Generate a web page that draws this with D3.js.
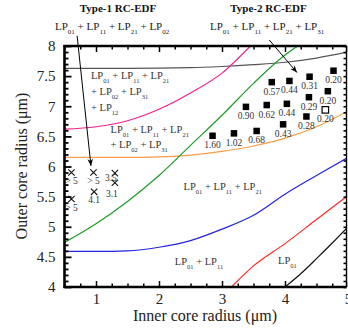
<!DOCTYPE html>
<html><head><meta charset="utf-8">
<script src="https://cdn.jsdelivr.net/npm/d3@7/dist/d3.min.js"></script>
<style>body{margin:0;background:#fff}svg{display:block}text{font-family:"Liberation Serif","Times New Roman",serif}</style>
</head><body><svg id="c" width="348" height="332"></svg>
<script>
// ---- data ----
const xTicks = [1, 2, 3, 4, 5];
const yTicks = [4, 4.5, 5, 5.5, 6, 6.5, 7, 7.5, 8];
const yTickLabels = ["4", "4.5", "5", "5.5", "6", "6.5", "7", "7.5", "8"];

const grayCurve    = [[0.5,7.63],[1.5,7.63],[2.5,7.64],[3.0,7.66],[3.5,7.69],[4.0,7.73],[4.5,7.80],[5.0,7.90]];
const magentaCurve = [[0.5,6.62],[1.0,6.66],[1.5,6.76],[2.0,6.95],[2.5,7.22],[3.0,7.55],[3.45,8.0]];
const orangeCurve  = [[0.5,6.15],[1.5,6.15],[2.0,6.16],[2.5,6.19],[3.0,6.25],[3.5,6.34],[4.0,6.47],[4.5,6.66],[5.0,6.92]];
const greenCurve   = [[0.5,4.74],[1.0,5.05],[1.5,5.42],[2.0,5.85],[2.5,6.35],[3.0,6.85],[3.5,7.38],[4.0,7.85],[4.2,8.0]];
const blueCurve    = [[0.5,4.59],[1.0,4.59],[1.5,4.60],[2.0,4.66],[2.5,4.77],[3.0,4.96],[3.5,5.19],[4.0,5.54],[4.5,5.85],[5.0,6.15]];
const redCurve     = [[3.15,4.0],[3.5,4.35],[4.0,4.72],[4.5,5.12],[5.0,5.52]];
const blackCurve   = [[4.0,4.0],[4.25,4.22],[4.5,4.47],[4.75,4.73],[5.0,5.0]];

const squareX      = [3.79, 4.07, 4.39, 4.77, 4.38, 4.68, 3.38, 3.71, 4.03, 4.34, 4.64, 3.97, 3.55, 3.19, 2.85];
const squareY      = [7.40, 7.42, 7.49, 7.59, 7.15, 7.25, 6.99, 7.02, 7.04, 6.83, 6.94, 6.70, 6.59, 6.55, 6.51];
const squareLabels = ["0.57","0.44","0.31","0.20","0.29","0.20","0.90","0.62","0.44","0.28","0.20","0.43","0.68","1.02","1.60"];
const squareOpen   = [false,false,false,false,false,false,false,false,false,false,true,false,false,false,false];

const crossX      = [0.61, 0.96, 0.97, 1.30, 1.30, 0.61];
const crossY      = [5.90, 5.90, 5.58, 5.89, 5.73, 5.46];
const crossLabels = ["> 5", "> 5", "4.1", "3.5", "3.1", "> 5"];

// ---- setup ----
const svg = d3.select("#c");
const x = d3.scaleLinear().domain([0.5, 5]).range([64.5, 348]);
const y = d3.scaleLinear().domain([4, 8]).range([287, 46]);
const X0 = x(0.5), X1 = 346.5, Y0 = y(4), Y1 = y(8);

// curves
const line = d3.line().x(d => x(d[0])).y(d => y(d[1])).curve(d3.curveMonotoneX);
const curves = [
  [grayCurve, "#555555"], [magentaCurve, "#f0218c"], [orangeCurve, "#f89c45"],
  [greenCurve, "#1f9a2a"], [blueCurve, "#2424dc"], [redCurve, "#ff2626"], [blackCurve, "#111111"]
];
const clip = svg.append("clipPath").attr("id","pc").append("rect")
  .attr("x", X0).attr("y", Y1).attr("width", X1 - X0).attr("height", Y0 - Y1);
const cg = svg.append("g").attr("clip-path","url(#pc)");
curves.forEach(([d, c]) => cg.append("path").attr("d", line(d)).attr("fill","none")
  .attr("stroke", c).attr("stroke-width", 1.2));

// axes
function minorRange(a, b, s) { return d3.range(Math.round((b - a) / s) + 1).map(i => +(a + i * s).toFixed(3)); }
const yMinor = minorRange(4, 8, 0.1).filter(v => !yTicks.some(t => Math.abs(t - v) < 1e-6));
const xMinor = minorRange(0.5, 5, 0.25).filter(v => !xTicks.some(t => Math.abs(t - v) < 1e-6));

function styleAxis(g, w) {
  g.select(".domain").remove();
  g.selectAll(".tick line").attr("stroke", "#000").attr("stroke-width", w);
}
// left
svg.append("g").attr("transform", `translate(${X0},0)`)
  .call(d3.axisLeft(y).tickValues(yTicks).tickSize(-7).tickPadding(9).tickFormat((d,i) => yTickLabels[i]))
  .call(g => { styleAxis(g, 1.8); g.selectAll("text").attr("font-size", 15).attr("fill","#222")
    .attr("font-family","Liberation Serif"); });
svg.append("g").attr("transform", `translate(${X0},0)`)
  .call(d3.axisLeft(y).tickValues(yMinor).tickSize(-4).tickFormat(""))
  .call(g => styleAxis(g, 1.8));
// right
svg.append("g").attr("transform", `translate(${X1},0)`)
  .call(d3.axisRight(y).tickValues(yMinor.concat(yTicks)).tickSize(-3).tickFormat(""))
  .call(g => styleAxis(g, 1.6));
// bottom
svg.append("g").attr("transform", `translate(0,${Y0})`)
  .call(d3.axisBottom(x).tickValues(xTicks).tickSize(-6).tickPadding(6).tickFormat(d3.format("d")))
  .call(g => { styleAxis(g, 1.5); g.selectAll("text").attr("font-size", 15).attr("fill","#222")
    .attr("font-family","Liberation Serif"); });
svg.append("g").attr("transform", `translate(0,${Y0})`)
  .call(d3.axisBottom(x).tickValues(xMinor).tickSize(-3.5).tickFormat(""))
  .call(g => styleAxis(g, 1.5));
// top
svg.append("g").attr("transform", `translate(0,${Y1})`)
  .call(d3.axisTop(x).tickValues(xTicks).tickSize(-6).tickFormat(""))
  .call(g => styleAxis(g, 1.5));
svg.append("g").attr("transform", `translate(0,${Y1})`)
  .call(d3.axisTop(x).tickValues(xMinor).tickSize(-3.5).tickFormat(""))
  .call(g => styleAxis(g, 1.5));

// frame
svg.append("line").attr("x1", X0).attr("x2", X0).attr("y1", Y1 - 1).attr("y2", Y0 + 1).attr("stroke","#000").attr("stroke-width", 2.6);
svg.append("line").attr("x1", X0 - 1).attr("x2", X1).attr("y1", Y0).attr("y2", Y0).attr("stroke","#000").attr("stroke-width", 2.6);
svg.append("line").attr("x1", X0 - 1).attr("x2", X1).attr("y1", Y1).attr("y2", Y1).attr("stroke","#000").attr("stroke-width", 2.6);
svg.append("line").attr("x1", X1).attr("x2", X1).attr("y1", Y1).attr("y2", Y0).attr("stroke","#000").attr("stroke-width", 1.4);

// axis titles
svg.append("text").attr("x", 205).attr("y", 321).attr("text-anchor","middle")
  .attr("font-size", 16).attr("fill","#222").text("Inner core radius (μm)");
svg.append("text").attr("transform", "translate(27,166) rotate(-90)").attr("text-anchor","middle")
  .attr("font-size", 16).attr("fill","#222").text("Outer core radius (μm)");

// markers
const sq = 6.5;
squareX.forEach((v, i) => {
  const cx = x(v), cy = y(squareY[i]);
  svg.append("rect").attr("x", cx - sq/2).attr("y", cy - sq/2).attr("width", sq).attr("height", sq)
    .attr("fill", squareOpen[i] ? "#fff" : "#000").attr("stroke","#000").attr("stroke-width", squareOpen[i] ? 1.2 : 0);
  svg.append("text").attr("x", cx).attr("y", cy + 12.5).attr("text-anchor","middle")
    .attr("font-size", 9.5).attr("fill","#333").text(squareLabels[i]);
});
const cs = 3.2;
const crossLabelShift = {3: [-4, 7.5], 4: [-3, 14]};
crossX.forEach((v, i) => {
  const cx = x(v), cy = y(crossY[i]);
  svg.append("path").attr("d", `M${cx-cs},${cy-cs}L${cx+cs},${cy+cs}M${cx-cs},${cy+cs}L${cx+cs},${cy-cs}`)
    .attr("stroke","#111").attr("stroke-width", 1.1);
  const [dx, dy] = crossLabelShift[i] || [0, 11.5];
  svg.append("text").attr("x", cx + dx).attr("y", cy + dy).attr("text-anchor","middle")
    .attr("font-size", 9.5).attr("fill","#333").text(crossLabels[i]);
});

// arrows
svg.append("defs").append("marker").attr("id","ah").attr("viewBox","0 0 10 10").attr("refX",10).attr("refY",5)
  .attr("markerWidth",7).attr("markerHeight",7).attr("orient","auto-start-reverse").attr("markerUnits","userSpaceOnUse")
  .append("path").attr("d","M0,1L10,5L0,9L3,5Z").attr("fill","#000");
[[[0.70, 8.17], [0.92, 6.01]], [[3.75, 8.10], [4.19, 7.56]]].forEach(([a, b]) => {
  svg.append("line").attr("x1", x(a[0])).attr("y1", y(a[1])).attr("x2", x(b[0])).attr("y2", y(b[1]))
    .attr("stroke","#000").attr("stroke-width", 1).attr("marker-end","url(#ah)");
});

// mode labels with subscripts
function lp(px, py, parts, size, subSize, color, anchor) {
  const t = svg.append("text").attr("x", px).attr("y", py).attr("font-size", size)
    .attr("fill", color).attr("text-anchor", anchor || "start").style("white-space","pre");
  parts.forEach(([pre, sub], i) => {
    t.append("tspan").attr("dy", i ? -4 : 0).text(pre);
    t.append("tspan").attr("dy", 4).attr("font-size", subSize).text(sub);
  });
  return t;
}
const c1 = "#333";
lp(x(0.92), y(7.45), [["LP","01"],[" + LP","11"],[" + LP","21"]], 10.5, 6.5, c1);
lp(x(0.92), y(7.19), [["+ LP","02"],[" + LP","31"]], 10.5, 6.5, c1);
lp(x(0.92), y(6.92), [["+ LP","12"]], 10.5, 6.5, c1);
lp(x(1.23), y(6.56), [["LP","01"],[" + LP","11"],[" + LP","21"]], 10.5, 6.5, c1);
lp(x(1.23), y(6.31), [["+ LP","02"],[" + LP","31"]], 10.5, 6.5, c1);
lp(x(2.39), y(5.61), [["LP","01"],[" + LP","11"],[" + LP","21"]], 10.5, 6.5, c1);
lp(x(2.25), y(4.37), [["LP","01"],[" + LP","11"]], 10.5, 6.5, c1);
lp(x(3.89), y(4.39), [["LP","01"]], 10.5, 6.5, c1);

// top titles
svg.append("text").attr("x", 118).attr("y", 12).attr("text-anchor","middle").attr("font-size", 11)
  .attr("font-weight","bold").attr("fill","#111").text("Type-1 RC-EDF");
svg.append("text").attr("x", 268.5).attr("y", 12).attr("text-anchor","middle").attr("font-size", 11)
  .attr("font-weight","bold").attr("fill","#111").text("Type-2 RC-EDF");
lp(55, 30, [["LP","01"],[" + LP","11"],[" + LP","21"],[" + LP","02"]], 11, 7, "#222");
lp(210, 30, [["LP","01"],[" + LP","11"],[" + LP","21"],[" + LP","31"]], 11, 7, "#222");
</script></body></html>
